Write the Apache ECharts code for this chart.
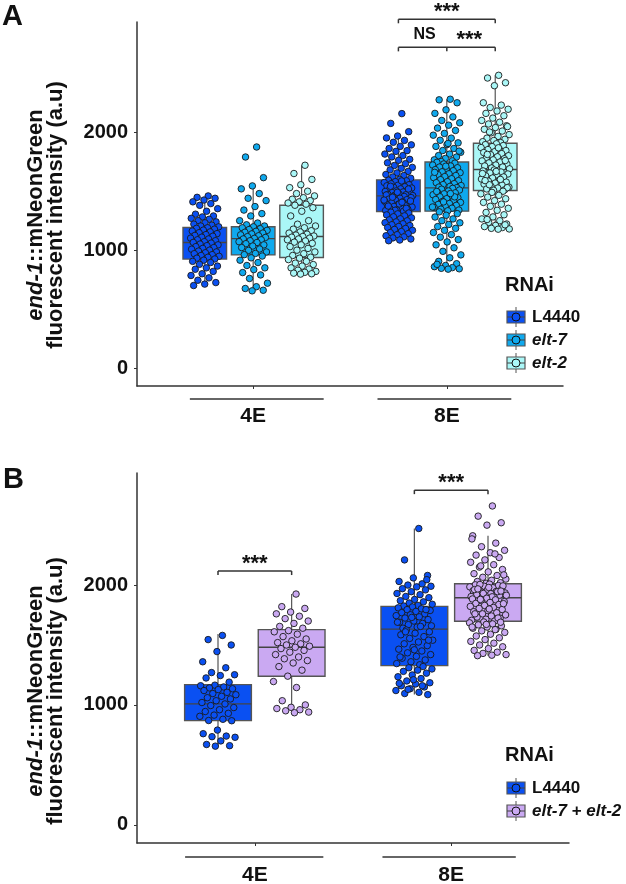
<!DOCTYPE html>
<html><head><meta charset="utf-8">
<script src="https://cdn.jsdelivr.net/npm/echarts@6/dist/echarts.min.js"></script>
<style>html,body{margin:0;padding:0;background:#fff}#c{width:626px;height:884px}</style>
</head><body><div id="c"></div><script>
// ---------- data ----------
const stages = ['4E', '8E'];
const groupsA = ['L4440', 'elt-7', 'elt-2'];
const groupsB = ['L4440', 'elt-7 + elt-2'];
const yTicks = [0, 1000, 2000];

// box stats: [lower whisker, Q1, median, Q3, upper whisker]
const box_A_4E_L4440 = [728, 924, 1065, 1192, 1449];
const box_A_4E_elt7  = [655, 960, 1098, 1198, 1545];
const box_A_4E_elt2  = [797, 938, 1116, 1381, 1720];
const box_A_8E_L4440 = [1079, 1328, 1460, 1596, 1957];
const box_A_8E_elt7  = [839, 1331, 1528, 1748, 2280];
const box_A_8E_elt2  = [1178, 1506, 1684, 1907, 2483];
const box_B_4E_L4440 = [656, 869, 1008, 1169, 1592];
const box_B_4E_combo = [951, 1239, 1481, 1628, 1925];
const box_B_8E_L4440 = [1086, 1328, 1633, 1822, 2472];
const box_B_8E_combo = [1411, 1698, 1894, 2011, 2411];

// individual measurements
const A_4E_L4440 = [1460,1448,1440,1425,1410,1395,1380,1352,1330,1305,1290,1282,1270,1262,1250,1240,1232,1221,1212,1205,1198,1190,1185,1178,1170,1162,1155,1148,1140,1132,1125,1118,1110,1102,1095,1088,1080,1072,1066,1060,1052,1045,1038,1030,1022,1015,1008,1000,992,985,978,970,962,955,948,940,932,925,915,905,895,880,865,850,838,820,800,785,765,745,725,712,700];
const A_4E_elt7 = [1875,1790,1615,1545,1520,1480,1440,1420,1370,1340,1310,1290,1250,1230,1215,1205,1198,1190,1182,1175,1168,1160,1152,1145,1138,1130,1122,1115,1108,1100,1095,1088,1080,1072,1065,1055,1045,1035,1022,1010,998,985,972,962,950,935,915,895,870,850,835,810,790,760,720,690,675,660,655];
const A_4E_elt2 = [1720,1650,1600,1555,1530,1500,1480,1460,1445,1432,1420,1410,1400,1390,1381,1360,1330,1290,1250,1220,1205,1190,1178,1165,1155,1145,1136,1128,1120,1116,1110,1102,1095,1088,1078,1068,1058,1045,1030,1015,1000,985,970,955,940,932,920,905,890,878,865,850,840,830,820,812,805,800,797];
const A_8E_L4440 = [2158,2075,2005,1968,1952,1931,1915,1893,1880,1862,1844,1838,1815,1802,1791,1770,1762,1741,1733,1718,1702,1694,1681,1668,1655,1642,1633,1621,1610,1601,
 1593,1588,1581,1574,1570,1563,1555,1551,1546,1538,1532,1527,1520,1514,1509,1503,1498,1494,1488,1481,1477,1473,1470,1466,1463,1587,1542,1519,1491,1468,
 1455,1451,1446,1440,1433,1428,1421,1415,1410,1402,1397,1390,1386,1378,1371,1366,1359,1353,1347,1342,1336,1331,1449,1417,1392,1374,1355,1338,1425,1406,
 1322,1315,1308,1299,1291,1283,1274,1266,1257,1249,1240,1233,1224,1216,1209,1201,1192,1184,1176,1168,1158,1149,1140,1131,1122,1113,1104,1095,1086,1080];
const A_8E_elt7 = [2280,2275,2250,2190,2160,2130,2100,2080,2060,2035,2015,1990,1975,1950,1932,1910,1895,1880,1862,1845,1830,1815,1802,1790,1778,1766,1758,1752,1840,1905,
 1745,1738,1731,1722,1714,1705,1699,1690,1683,1674,1665,1657,1648,1640,1633,1624,1615,1606,1598,1590,1581,1572,1564,1556,1548,1541,1535,1530,1712,1660,
 1524,1517,1510,1502,1494,1486,1478,1470,1462,1453,1445,1437,1430,1421,1413,1405,1396,1388,1380,1372,1364,1356,1348,1340,1334,1498,1452,1409,1366,1480,
 1325,1310,1296,1281,1265,1250,1232,1218,1200,1185,1168,1150,1132,1110,1090,1070,1045,1020,990,960,935,905,885,870,860,852,846,842,839,880];
const A_8E_elt2 = [2483,2460,2420,2395,2250,2230,2210,2195,2180,2160,2140,2120,2100,2085,2070,2055,2040,2025,2010,1995,1980,1965,1950,1940,1930,1920,1912,2002,2048,
 1902,1895,1887,1878,1870,1861,1853,1845,1836,1828,1819,1810,1801,1792,1783,1775,1766,1757,1748,1740,1731,1722,1714,1705,1697,1690,1868,1812,1760,
 1680,1672,1663,1655,1646,1638,1630,1621,1612,1603,1595,1586,1577,1569,1560,1552,1543,1535,1527,1519,1512,1508,1650,1600,1555,1530,1668,1590,
 1500,1490,1478,1465,1450,1436,1420,1405,1390,1372,1355,1338,1320,1300,1282,1265,1250,1235,1222,1210,1200,1192,1185,1180,1178,1260,1215];
const B_4E_L4440 = [1580,1545,1500,1445,1360,1310,1270,1252,1245,1225,1190,1165,1160,1150,1142,1135,1128,1120,1105,1095,1085,1072,1060,1050,1035,1020,1008,995,978,960,945,930,915,905,880,870,868,790,760,740,735,730,700,670,660,656];
const B_4E_combo = [1925,1820,1805,1775,1760,1740,1720,1700,1680,1655,1640,1620,1610,1590,1570,1550,1535,1520,1510,1500,1490,1481,1470,1455,1440,1420,1400,1385,1370,1350,1320,1290,1240,1195,1145,1035,1000,980,970,960,951,940,935];
const B_8E_L4440 = [2472,2210,2080,2060,2030,2010,2000,1990,1985,1970,1960,1945,1930,1920,1905,1895,1880,1870,1860,1850,1840,1830,1825,2045,
 1818,1810,1802,1795,1788,1780,1770,1760,1752,1745,1735,1725,1712,1700,1690,1680,1670,1660,1650,1640,1795,1730,1690,1655,
 1625,1610,1598,1585,1570,1555,1540,1525,1510,1495,1480,1465,1450,1435,1420,1405,1390,1375,1360,1345,1335,1610,1540,1460,1400,
 1320,1310,1300,1290,1280,1265,1250,1235,1220,1200,1185,1175,1160,1150,1135,1120,1105,1095,1086,1210,1180,1160,1130];
const B_8E_combo = [2660,2575,2520,2500,2411,2350,2320,2290,2270,2250,2230,2210,2190,2170,2150,2130,2110,2095,2080,2065,2050,2040,2030,2020,2015,2385,2260,2160,2085,
 2008,2002,1996,1990,1985,1978,1972,1966,1960,1953,1947,1940,1934,1928,1922,1916,1910,1904,1898,2005,1993,1980,1962,1945,1930,1915,1902,1968,1950,
 1890,1884,1877,1870,1862,1855,1847,1838,1830,1822,1813,1805,1796,1787,1778,1769,1760,1751,1742,1733,1724,1715,1706,1700,1880,1845,1800,1760,1725,
 1692,1685,1676,1668,1660,1650,1640,1630,1618,1605,1590,1575,1560,1545,1530,1515,1500,1485,1470,1455,1440,1430,1420,1415,1411,1690,1672,1650,1628];

// significance annotations: [x1, x2, y, middle tick x (or -1)]
const sigA_brackets = [[1.75, 2.25, 2958, -1], [1.75, 2.25, 2720, 2.0]];
const sigA_labels = [[2.0, 2958], [1.885, 2720], [2.116, 2720]];
const sigA_text = ['***', 'NS', '***'];
const sigB_brackets = [[0.8125, 1.1875, 2117, -1], [1.8125, 2.1875, 2792, -1]];
const sigB_labels = [[1.0, 2117], [2.0, 2792]];
const sigB_text = ['***', '***'];
// stage underline spans
const stageLineA = [[0.673, 1.364, 1], [1.642, 2.333, 2]];
const stageLineB = [[0.645, 1.349, 1], [1.650, 2.329, 2]];

// ---------- drawing ----------
const FONT = '"Liberation Sans", Arial, Helvetica, sans-serif';
const Y_MIN = -152, Y_MAX = 2935;
const colL4440 = '#0a50f2', colElt7 = '#0fa9ee', colElt2 = '#aaf7f7', colCombo = '#caa9f2';
const AXC = '#333';

function jit(i) { return (((i + 1) * 0.6180339887) % 1) * 2 - 1; }

function boxSeries(gi, x, stats, halfW, color) {
  return {
    type: 'custom', xAxisIndex: gi, yAxisIndex: gi, z: 2, silent: true, clip: false,
    data: [[x].concat(stats)],
    encode: { x: 0, y: [1, 2, 3, 4, 5] },
    renderItem: function (params, api) {
      const xv = api.value(0);
      const lo = api.coord([xv, api.value(1)]), q1 = api.coord([xv, api.value(2)]),
            md = api.coord([xv, api.value(3)]), q3 = api.coord([xv, api.value(4)]),
            hi = api.coord([xv, api.value(5)]);
      const xl = api.coord([xv - halfW, 0])[0], xr = api.coord([xv + halfW, 0])[0];
      return { type: 'group', children: [
        { type: 'line', shape: { x1: lo[0], y1: lo[1], x2: hi[0], y2: hi[1] }, style: { stroke: '#555', lineWidth: 1.2 } },
        { type: 'rect', shape: { x: xl, y: q3[1], width: xr - xl, height: q1[1] - q3[1] }, style: { fill: color, stroke: '#555', lineWidth: 1.4 } },
        { type: 'line', shape: { x1: xl, y1: md[1], x2: xr, y2: md[1] }, style: { stroke: '#444', lineWidth: 1.3 } }
      ] };
    }
  };
}
function pointSeries(gi, x, vals, jw, color) {
  return {
    type: 'scatter', xAxisIndex: gi, yAxisIndex: gi, z: 3, silent: true,
    symbolSize: 6.5,
    itemStyle: { color: color, borderColor: '#1a1a1a', borderWidth: 0.9, opacity: 1 },
    data: vals.map((v, i) => [x + jit(i) * jw, v])
  };
}
function bracketSeries(gi, rows) {
  return {
    type: 'custom', xAxisIndex: gi, yAxisIndex: gi, z: 4, silent: true, clip: false,
    data: rows, encode: { x: [0, 1], y: 2 },
    renderItem: function (params, api) {
      const a = api.coord([api.value(0), api.value(2)]), b = api.coord([api.value(1), api.value(2)]);
      const tip = 4;
      const ch = [
        { type: 'line', shape: { x1: a[0], y1: a[1], x2: b[0], y2: b[1] }, style: { stroke: '#333', lineWidth: 1.5 } },
        { type: 'line', shape: { x1: a[0], y1: a[1], x2: a[0], y2: a[1] + tip }, style: { stroke: '#333', lineWidth: 1.5 } },
        { type: 'line', shape: { x1: b[0], y1: b[1], x2: b[0], y2: b[1] + tip }, style: { stroke: '#333', lineWidth: 1.5 } }
      ];
      if (api.value(3) > 0) {
        const m = api.coord([api.value(3), api.value(2)]);
        ch.push({ type: 'line', shape: { x1: m[0], y1: m[1], x2: m[0], y2: m[1] + tip }, style: { stroke: '#333', lineWidth: 1.5 } });
      }
      return { type: 'group', children: ch };
    }
  };
}
function labelSeries(gi, rows, texts) {
  return {
    type: 'custom', xAxisIndex: gi, yAxisIndex: gi, z: 4, silent: true, clip: false,
    data: rows, encode: { x: 0, y: 1 },
    renderItem: function (params, api) {
      const p = api.coord([api.value(0), api.value(1)]);
      const t = texts[params.dataIndex];
      const star = t.indexOf('*') >= 0;
      return { type: 'text', x: p[0], y: p[1] - (star ? 7 : 13),
        style: { text: t, font: (star ? 'bold 22px ' : 'bold 16px ') + FONT, fill: '#111', align: 'center', verticalAlign: 'middle', textAlign: 'center', textVerticalAlign: 'middle' } };
    }
  };
}
function stageSeries(gi, rows, lineOff, textOff) {
  return {
    type: 'custom', xAxisIndex: gi, yAxisIndex: gi, z: 4, silent: true, clip: false,
    data: rows.map(r => [r[0], r[1], r[2], Y_MIN]), encode: { x: [0, 1, 2], y: 3 },
    renderItem: function (params, api) {
      const a = api.coord([api.value(0), Y_MIN]), b = api.coord([api.value(1), Y_MIN]), c = api.coord([api.value(2), Y_MIN]);
      return { type: 'group', children: [
        { type: 'line', shape: { x1: a[0], y1: a[1] + lineOff, x2: b[0], y2: a[1] + lineOff }, style: { stroke: '#333', lineWidth: 1.6 } },
        { type: 'text', x: c[0], y: c[1] + textOff,
          style: { text: stages[params.dataIndex], font: 'bold 21px ' + FONT, fill: '#111', align: 'center', verticalAlign: 'middle', textAlign: 'center', textVerticalAlign: 'middle' } }
      ] };
    }
  };
}

function xAxisCfg(gi) {
  return { gridIndex: gi, type: 'value', min: 0.4, max: 2.6,
    axisLine: { show: true, onZero: false, lineStyle: { color: AXC, width: 1.5 } },
    axisTick: { show: true, customValues: [1, 2], length: 3, lineStyle: { color: AXC } },
    axisLabel: { show: false }, splitLine: { show: false } };
}
function yAxisCfg(gi) {
  return { gridIndex: gi, type: 'value', min: Y_MIN, max: Y_MAX,
    axisLine: { show: true, onZero: false, lineStyle: { color: AXC, width: 1.5 } },
    axisTick: { show: true, customValues: yTicks, length: 3, lineStyle: { color: AXC } },
    axisLabel: { customValues: yTicks, formatter: v => String(v), fontSize: 20, fontWeight: 'bold', color: '#111', fontFamily: FONT, margin: 9 },
    splitLine: { show: false } };
}

const series = [];
// Panel A
const offA = [-0.25, 0, 0.25], jwA = 0.075, hwA = 0.1125;
const colsA = [colL4440, colElt7, colElt2];
const boxesA = [[box_A_4E_L4440, box_A_4E_elt7, box_A_4E_elt2], [box_A_8E_L4440, box_A_8E_elt7, box_A_8E_elt2]];
const ptsA = [[A_4E_L4440, A_4E_elt7, A_4E_elt2], [A_8E_L4440, A_8E_elt7, A_8E_elt2]];
for (let s = 0; s < 2; s++) for (let g = 0; g < 3; g++) series.push(boxSeries(0, s + 1 + offA[g], boxesA[s][g], hwA, colsA[g]));
for (let s = 0; s < 2; s++) for (let g = 0; g < 3; g++) series.push(pointSeries(0, s + 1 + offA[g], ptsA[s][g], jwA, colsA[g]));
series.push(bracketSeries(0, sigA_brackets), labelSeries(0, sigA_labels, sigA_text), stageSeries(0, stageLineA, 13, 30));
// Panel B
const offB = [-0.1875, 0.1875], jwB = 0.095, hwB = 0.17;
const colsB = [colL4440, colCombo];
const boxesB = [[box_B_4E_L4440, box_B_4E_combo], [box_B_8E_L4440, box_B_8E_combo]];
const ptsB = [[B_4E_L4440, B_4E_combo], [B_8E_L4440, B_8E_combo]];
for (let s = 0; s < 2; s++) for (let g = 0; g < 2; g++) series.push(boxSeries(1, s + 1 + offB[g], boxesB[s][g], hwB, colsB[g]));
for (let s = 0; s < 2; s++) for (let g = 0; g < 2; g++) series.push(pointSeries(1, s + 1 + offB[g], ptsB[s][g], jwB, colsB[g]));
series.push(bracketSeries(1, sigB_brackets), labelSeries(1, sigB_labels, sigB_text), stageSeries(1, stageLineB, 14, 32));

// graphics: panel letters, y titles, legends
const graphic = [];
function txt(x, y, text, font, extra) {
  return Object.assign({ type: 'text', x: x, y: y, silent: true,
    style: Object.assign({ text: text, font: font, fill: '#111' }, extra || {}) });
}
graphic.push(txt(2, 2, 'A', 'bold 29px ' + FONT, { align: 'left', verticalAlign: 'top', textAlign: 'left', textVerticalAlign: 'top' }));
graphic.push(txt(3, 465, 'B', 'bold 29px ' + FONT, { align: 'left', verticalAlign: 'top', textAlign: 'left', textVerticalAlign: 'top' }));
function yTitle(cy) {
  const rich = { i: { fontStyle: 'italic', fontWeight: 'bold', fontSize: 22, fontFamily: FONT, fill: '#111' } };
  const base = { align: 'center', verticalAlign: 'middle', textAlign: 'center', textVerticalAlign: 'middle' };
  return [
    { type: 'text', x: 36, y: cy, rotation: Math.PI / 2, silent: true,
      style: Object.assign({ text: '{i|end-1}::mNeonGreen', font: 'bold 22px ' + FONT, fontWeight: 'bold', fontSize: 22, fontFamily: FONT, fill: '#111', rich: rich }, base) },
    { type: 'text', x: 56, y: cy, rotation: Math.PI / 2, silent: true,
      style: Object.assign({ text: 'fluorescent intensity (a.u)', font: 'bold 22px ' + FONT, fill: '#111' }, base) }
  ];
}
graphic.push(...yTitle(215), ...yTitle(691));
function legend(names, cols, titleY, firstY, step) {
  const out = [txt(505, titleY, 'RNAi', 'bold 20px ' + FONT, { align: 'left', verticalAlign: 'middle', textAlign: 'left', textVerticalAlign: 'middle' })];
  const rich = { i: { fontStyle: 'italic', fontWeight: 'bold', fontSize: 17, fontFamily: FONT, fill: '#111' } };
  names.forEach((n, k) => {
    const cy = firstY + k * step;
    out.push({ type: 'line', silent: true, shape: { x1: 516, y1: cy - 10, x2: 516, y2: cy + 10 }, style: { stroke: '#555', lineWidth: 1 } });
    out.push({ type: 'rect', silent: true, shape: { x: 507, y: cy - 6, width: 18, height: 12 }, style: { fill: cols[k], stroke: '#555', lineWidth: 1.2 } });
    out.push({ type: 'line', silent: true, shape: { x1: 507, y1: cy, x2: 525, y2: cy }, style: { stroke: '#444', lineWidth: 1 } });
    out.push({ type: 'circle', silent: true, shape: { cx: 516, cy: cy, r: 4 }, style: { fill: cols[k], stroke: '#111', lineWidth: 1 } });
    const label = n === 'L4440' ? n : n.split(' + ').map(p => '{i|' + p + '}').join(' + ');
    out.push({ type: 'text', x: 532, y: cy, silent: true,
      style: { text: label, font: 'bold 17px ' + FONT, fill: '#111', rich: rich, align: 'left', verticalAlign: 'middle', textAlign: 'left', textVerticalAlign: 'middle' } });
  });
  return out;
}
graphic.push(...legend(groupsA, colsA, 285, 317, 23));
graphic.push(...legend(groupsB, colsB, 755, 788, 23));

const chart = echarts.init(document.getElementById('c'));
chart.setOption({
  animation: false,
  backgroundColor: '#fff',
  grid: [
    { left: 137, top: 22, width: 426, height: 364 },
    { left: 137, top: 473, width: 432, height: 370 }
  ],
  xAxis: [xAxisCfg(0), xAxisCfg(1)],
  yAxis: [yAxisCfg(0), yAxisCfg(1)],
  series: series,
  graphic: graphic
});
</script></body></html>
